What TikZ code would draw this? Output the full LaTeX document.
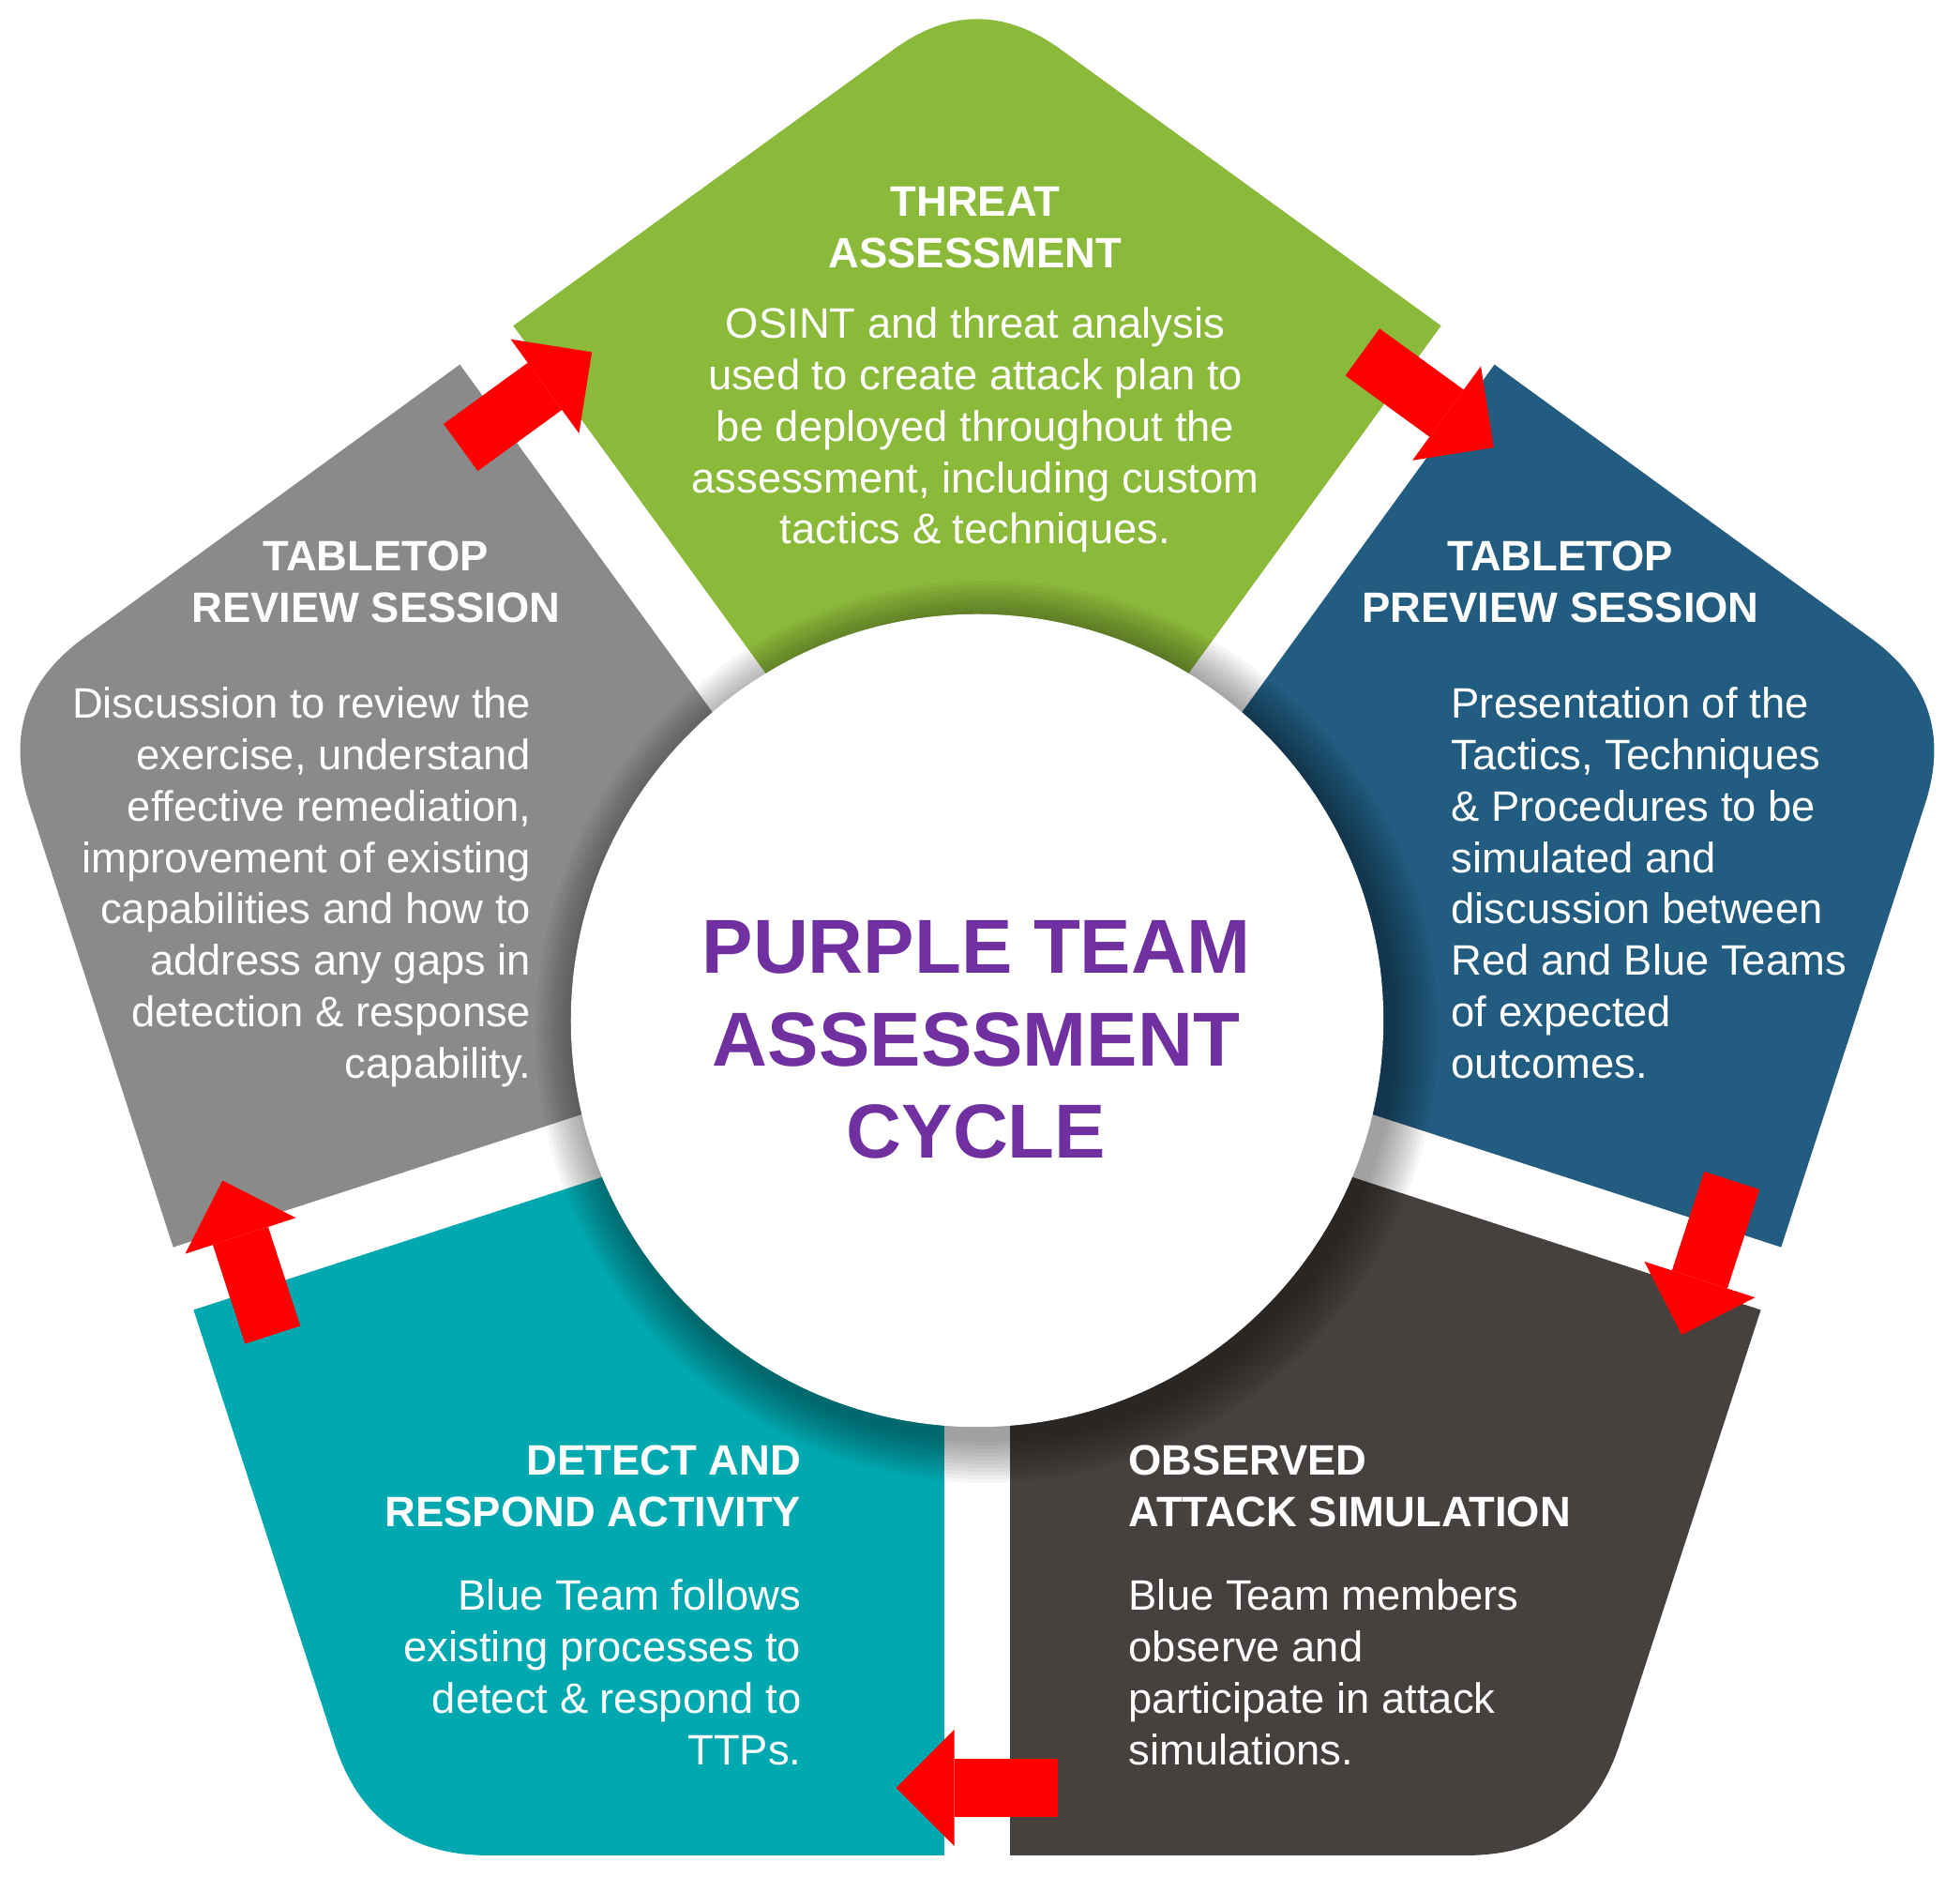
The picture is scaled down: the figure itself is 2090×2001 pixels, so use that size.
\documentclass[tikz,border=0pt]{standalone}
\usepackage{fontspec}
\setmainfont{Liberation Sans}
\usetikzlibrary{calc,arrows.meta}

\definecolor{segGreen}{HTML}{8BB93A}
\definecolor{segBlue}{HTML}{225C80}
\definecolor{segDark}{HTML}{46413E}
\definecolor{segTeal}{HTML}{00A8B0}
\definecolor{segGray}{HTML}{8A8A8A}
\definecolor{titlePurple}{HTML}{7030A0}
\definecolor{arrowRed}{HTML}{FF0000}

\begin{document}
\begin{tikzpicture}[x=0.01cm, y=0.01cm,
    head/.style={text=white, font=\fontsize{12.9}{15.6}\selectfont\bfseries, inner sep=0pt},
    body/.style={text=white, font=\fontsize{12.9}{15.6}\selectfont, inner sep=0pt},
    cyclearrow/.style={draw=arrowRed, line width=0.62cm,
        -{Triangle[length=0.62cm, width=1.24cm, line width=0pt]}}]

    % Canvas
    \useasboundingbox (-1042,-913) rectangle (1048,1088);
    \fill[white] (-1042,-913) rectangle (1048,1088);

    % Five segments of the rounded pentagon
    \foreach \vang/\col/\ins in {90/segGreen/110, 18/segBlue/115, -54/segDark/125, -126/segTeal/125, 162/segGray/115} {
        \fill[\col] (0,0) -- (\vang-36:890)
            -- ($(\vang:1100)+(\vang-126:\ins)$)
            .. controls ($(\vang:1100)+(\vang-126:\ins/3)$) and ($(\vang:1100)+(\vang+126:\ins/3)$)
            .. ($(\vang:1100)+(\vang+126:\ins)$)
            -- (\vang+36:890) -- cycle;
    }

    % White gaps between the segments
    \foreach \mang in {126,54,-18,-90,-162}
        \draw[white, line width=0.7cm] (0,0) -- (\mang:1000);

    % Soft shadow under the hub
    \foreach \k in {1,...,12}
        \fill[black, opacity=0.035] (10,-12) circle[radius=433+4*\k];

    \node[circle, fill=white, minimum size=8.66cm, inner sep=0pt] (hub) at (0,0) {};
    \node[font=\fontsize{23.2}{28}\selectfont\bfseries, text=titlePurple, align=center, anchor=north, inner sep=0pt]
        (title) at (-1,107) {PURPLE TEAM\\ASSESSMENT\\CYCLE};

    % Threat assessment
    \node[head, align=center, anchor=north] (threatHead) at (-2,889) {THREAT\\ASSESSMENT};
    \node[body, align=center, anchor=north] (threatBody) at (-2,761)
        {OSINT and threat analysis\\used to create attack plan to\\be deployed throughout the\\assessment, including custom\\tactics \& techniques.};

    % Tabletop preview
    \node[head, align=center, anchor=north] (previewHead) at (622,512) {TABLETOP\\PREVIEW SESSION};
    \node[body, align=left, anchor=north west] (previewBody) at (505,356)
        {Presentation of the\\Tactics, Techniques\\\& Procedures to be\\simulated and\\discussion between\\Red and Blue Teams\\of expected\\outcomes.};

    % Observed attack simulation
    \node[head, align=left, anchor=north west] (attackHead) at (161,-452) {OBSERVED\\ATTACK SIMULATION};
    \node[body, align=left, anchor=north west] (attackBody) at (161,-595)
        {Blue Team members\\observe and\\participate in attack\\simulations.};

    % Detect and respond
    \node[head, align=right, anchor=north east] (detectHead) at (-187,-452) {DETECT AND\\RESPOND ACTIVITY};
    \node[body, align=right, anchor=north east] (detectBody) at (-187,-595)
        {Blue Team follows\\existing processes to\\detect \& respond to\\TTPs.};

    % Tabletop review
    \node[head, align=center, anchor=north] (reviewHead) at (-641,512) {TABLETOP\\REVIEW SESSION};
    \node[body, align=right, anchor=north east] (reviewBody) at (-475,356)
        {Discussion to review the\\exercise, understand\\effective remediation,\\improvement of existing\\capabilities and how to\\address any gaps in\\detection \& response\\capability.};

    % Red arrows across the gaps
    \foreach \mang [count=\i] in {126,54,-18,-90,-162} {
        \coordinate (tail\i) at ($(\mang:818)+(\mang+90:86.5)$);
        \coordinate (tip\i) at ($(\mang:818)+(\mang-90:86.5)$);
        \draw[cyclearrow] (tail\i) -- (tip\i);
    }

\end{tikzpicture}
\end{document}
